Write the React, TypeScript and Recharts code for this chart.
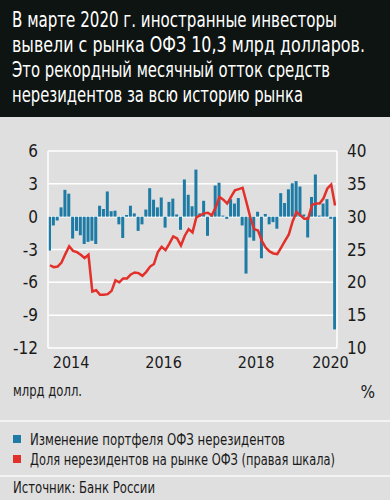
import { ComposedChart, Bar, Line, XAxis, YAxis, CartesianGrid } from 'recharts'

const startYear = 2014

// изменение портфеля ОФЗ нерезидентов, млрд долл., янв 2014 – мар 2020
const flowBn = [
  -3.1, -0.8, -0.35, 0.85, 2.45, 2.1, -2.0, -1.3, -1.7, -2.5, -2.3, -2.2,
  -2.5, 1.0, 0.7, 2.3, 0.5, 0.55, -0.7, -1.95, 0.15, 1.0, 0.3, -1.3,
  -0.7, 0.65, 2.6, 1.55, 0.85, 1.75, -1.0, 1.35, 1.65, 0.2, -1.2, 3.4,
  2.0, 0.95, 4.3, 0.3, 1.45, -1.75, 0.2, 2.85, 3.1, 0.1, -0.2, 1.6,
  1.2, 1.7, -0.8, -5.2, -1.9, -2.2, 0.45, -3.8, 0.25, -0.7, -0.5, -1.1,
  2.15, 1.25, 2.5, 3.05, 3.25, 2.75, 0.2, -1.9, 1.8, 3.85, 0.1, 1.2,
  1.6, -0.2, -10.3,
]

// доля нерезидентов на рынке ОФЗ, %
const sharePct = [
  22.6, 22.3, 22.4, 23.0, 24.3, 25.5, 24.8, 24.6, 24.2, 23.7, 24.2, 18.6,
  18.8, 18.1, 18.1, 18.2, 18.7, 20.3, 20.0, 20.6, 20.6, 21.2, 21.5, 21.4,
  21.0, 21.6, 22.4, 22.8, 24.6, 25.4, 24.9, 25.9, 27.0, 26.7, 25.6, 27.1,
  28.1, 27.6, 29.9, 30.2, 30.5, 30.6, 30.2, 31.4, 33.0, 32.6, 32.0, 33.0,
  34.0, 34.2, 34.4, 32.2, 29.9, 28.1, 27.9, 26.3, 25.3, 24.7, 24.4, 24.3,
  25.3, 26.3, 27.3, 29.3, 30.7, 30.2, 29.7, 29.7, 31.8, 32.0, 32.0, 32.8,
  34.3, 34.9, 31.7,
]

const months = flowBn.map(
  (_, i) => `${startYear + Math.floor(i / 12)}-${String((i % 12) + 1).padStart(2, '0')}`
)
const yearLabels = [2014, 2016, 2018, 2020]
const leftTicks = [-12, -9, -6, -3, 0, 3, 6]
const rightTicks = [10, 15, 20, 25, 30, 35, 40]

const titleLines = [
  'В марте 2020 г. иностранные инвесторы',
  'вывели с рынка ОФЗ 10,3 млрд долларов.',
  'Это рекордный месячный отток средств',
  'нерезидентов за всю историю рынка',
]
const titleWidths = [325, 353, 318, 291]
const legendItems = [
  { name: 'Изменение портфеля ОФЗ нерезидентов', color: '#1d7ba5', w: 255 },
  { name: 'Доля нерезидентов на рынке ОФЗ (правая шкала)', color: '#e2302a', w: 305 },
]

const data = months.map((m, i) => ({
  m,
  x: i + 0.5,
  flow: flowBn[i],
  share: sharePct[i],
}))

const nMonths = months.length
const yearTicks = months.map((_, i) => i).filter((i) => i % 12 === 0)
const labelTicks = yearLabels.map((y) => Math.min((y - startYear) * 12 + 6, nMonths - 1.7))

const FONT = '"DejaVu Sans Condensed", "Liberation Sans Narrow", "Roboto", sans-serif'
const BG = '#dfdfdf'
const INK = '#1a1a1a'

export default function App() {
  return (
    <div
      style={{
        position: 'relative',
        width: 390,
        height: 500,
        background: BG,
        fontFamily: FONT,
        overflow: 'hidden',
      }}
    >
      <style>{'body{margin:0}'}</style>
      <svg
        width={390}
        height={500}
        style={{ position: 'absolute', left: 0, top: 0 }}
        fontFamily={FONT}
      >
        <rect x={0} y={0} width={390} height={117} fill="#0e1411" />
        {titleLines.map((t, i) => (
          <text
            key={t}
            transform={`translate(12 ${27 + i * 25}) scale(1 1.15)`}
            x={0}
            y={0}
            fontSize={18}
            fill="#ffffff"
            textLength={titleWidths[i]}
            lengthAdjust="spacingAndGlyphs"
          >
            {t}
          </text>
        ))}
        <text x={13} y={396} fontSize={15} fill={INK} textLength={69} lengthAdjust="spacingAndGlyphs">
          млрд долл.
        </text>
        <text x={375} y={398} fontSize={17} fill={INK} textAnchor="end">
          %
        </text>
        <rect x={0} y={420} width={390} height={2} fill="#f3f3f3" />
        {legendItems.map((it, i) => (
          <g key={it.name}>
            <rect x={13} y={435 + i * 20} width={8} height={8} fill={it.color} />
            <text
              x={30}
              y={445 + i * 20}
              fontSize={15}
              fill={INK}
              textLength={it.w}
              lengthAdjust="spacingAndGlyphs"
            >
              {it.name}
            </text>
          </g>
        ))}
        <rect x={0} y={475} width={390} height={2} fill="#f3f3f3" />
        <text x={13} y={493} fontSize={15} fill={INK} textLength={142} lengthAdjust="spacingAndGlyphs">
          Источник: Банк России
        </text>
      </svg>

      <div style={{ position: 'absolute', left: 0, top: 130 }}>
        <ComposedChart
          width={390}
          height={250}
          data={data}
          margin={{ top: 21, right: 0, bottom: 0, left: 0 }}
        >
          <CartesianGrid
            xAxisId="m"
            yAxisId="l"
            vertical={false}
            stroke="#ffffff"
            strokeWidth={1.5}
          />
          <XAxis
            xAxisId="m"
            dataKey="x"
            type="number"
            domain={[0, nMonths]}
            ticks={yearTicks}
            height={0}
            mirror
            tickSize={5}
            tickFormatter={() => ''}
            axisLine={{ stroke: '#ffffff', strokeWidth: 1.5 }}
            tickLine={{ stroke: '#ffffff', strokeWidth: 1.5 }}
          />
          <XAxis
            xAxisId="y"
            dataKey="x"
            type="number"
            domain={[0, nMonths]}
            ticks={labelTicks}
            interval={0}
            height={32}
            axisLine={false}
            tickLine={false}
            tickSize={0}
            tickMargin={9}
            tickFormatter={(v) => String(yearLabels[labelTicks.indexOf(v)] ?? '')}
            tick={{ fill: INK, fontSize: 16, fontFamily: FONT }}
          />
          <YAxis
            yAxisId="l"
            domain={[-12, 6]}
            ticks={leftTicks}
            interval={0}
            width={48}
            axisLine={{ stroke: '#ffffff', strokeWidth: 1.5 }}
            tickLine={false}
            tickSize={0}
            tickMargin={10}
            tick={{ fill: INK, fontSize: 17, fontFamily: FONT }}
          />
          <YAxis
            yAxisId="r"
            orientation="right"
            domain={[10, 40]}
            ticks={rightTicks}
            interval={0}
            width={53}
            axisLine={{ stroke: '#ffffff', strokeWidth: 1.5 }}
            tickLine={false}
            tickSize={0}
            tickMargin={10}
            tick={{ fill: INK, fontSize: 17, fontFamily: FONT, textAnchor: 'start' }}
          />
          <Bar
            xAxisId="m"
            yAxisId="l"
            dataKey="flow"
            fill="#1d7ba5"
            barSize={3}
            isAnimationActive={false}
          />
          <Line
            xAxisId="y"
            yAxisId="r"
            dataKey="share"
            type="linear"
            stroke="#e2302a"
            strokeWidth={2.5}
            dot={false}
            isAnimationActive={false}
          />
        </ComposedChart>
      </div>
    </div>
  )
}
